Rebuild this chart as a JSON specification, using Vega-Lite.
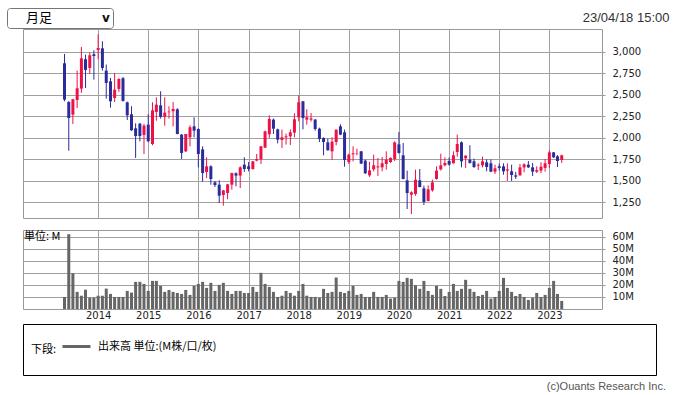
{
  "$schema": "https://vega.github.io/schema/vega-lite/v6.json",
  "padding": {"left": 6, "top": 7, "right": 8, "bottom": 5},
  "background": "white",
  "config": {
    "view": {"stroke": "#999999", "strokeWidth": 1},
    "axis": {"labelFont": "DejaVu Sans", "labelFontSize": 10, "labelColor": "#222222", "gridColor": "#a0a0a0", "gridWidth": 1, "tickColor": "#999999", "domain": false}
  },
  "datasets": {
    "px": [
      {"d":"2013-05-01","o":2864,"h":2972,"l":2423,"c":2442,"v":10},
      {"d":"2013-06-01","o":2415,"h":2423,"l":1850,"c":2229,"v":62},
      {"d":"2013-07-01","o":2268,"h":2450,"l":2160,"c":2446,"v":29.7},
      {"d":"2013-08-01","o":2438,"h":2779,"l":2345,"c":2574,"v":14.2},
      {"d":"2013-09-01","o":2570,"h":3054,"l":2520,"c":2922,"v":11},
      {"d":"2013-10-01","o":2911,"h":2965,"l":2578,"c":2787,"v":16},
      {"d":"2013-11-01","o":2810,"h":2992,"l":2740,"c":2957,"v":9.4},
      {"d":"2013-12-01","o":2969,"h":3015,"l":2674,"c":2949,"v":9.4},
      {"d":"2014-01-01","o":3019,"h":3201,"l":2911,"c":3042,"v":11},
      {"d":"2014-02-01","o":3038,"h":3120,"l":2779,"c":2810,"v":11},
      {"d":"2014-03-01","o":2779,"h":2849,"l":2454,"c":2636,"v":16.9},
      {"d":"2014-04-01","o":2655,"h":2694,"l":2349,"c":2423,"v":12.5},
      {"d":"2014-05-01","o":2461,"h":2752,"l":2415,"c":2558,"v":10},
      {"d":"2014-06-01","o":2566,"h":2690,"l":2531,"c":2682,"v":10},
      {"d":"2014-07-01","o":2690,"h":2705,"l":2419,"c":2427,"v":10},
      {"d":"2014-08-01","o":2411,"h":2419,"l":2206,"c":2260,"v":15},
      {"d":"2014-09-01","o":2272,"h":2365,"l":2080,"c":2086,"v":13.6},
      {"d":"2014-10-01","o":2109,"h":2167,"l":1765,"c":2020,"v":22.5},
      {"d":"2014-11-01","o":2163,"h":2171,"l":1958,"c":2020,"v":22.5},
      {"d":"2014-12-01","o":2032,"h":2160,"l":1811,"c":2140,"v":20.8},
      {"d":"2015-01-01","o":2152,"h":2272,"l":1950,"c":1958,"v":15},
      {"d":"2015-02-01","o":1927,"h":2411,"l":1912,"c":2318,"v":23.3},
      {"d":"2015-03-01","o":2299,"h":2469,"l":2198,"c":2384,"v":23.3},
      {"d":"2015-04-01","o":2376,"h":2539,"l":2222,"c":2241,"v":19.2},
      {"d":"2015-05-01","o":2241,"h":2469,"l":2140,"c":2291,"v":14.2},
      {"d":"2015-06-01","o":2295,"h":2365,"l":2222,"c":2303,"v":15.8},
      {"d":"2015-07-01","o":2307,"h":2415,"l":2132,"c":2334,"v":14.2},
      {"d":"2015-08-01","o":2330,"h":2342,"l":2040,"c":2043,"v":13.3},
      {"d":"2015-09-01","o":2036,"h":2043,"l":1753,"c":1823,"v":12.5},
      {"d":"2015-10-01","o":1842,"h":2043,"l":1834,"c":2043,"v":15.8},
      {"d":"2015-11-01","o":2005,"h":2144,"l":1900,"c":2121,"v":11.7},
      {"d":"2015-12-01","o":2132,"h":2237,"l":2005,"c":2082,"v":19.2},
      {"d":"2016-01-01","o":2101,"h":2109,"l":1656,"c":1811,"v":20.8},
      {"d":"2016-02-01","o":1865,"h":1900,"l":1490,"c":1590,"v":22.5},
      {"d":"2016-03-01","o":1602,"h":1772,"l":1532,"c":1668,"v":17.5},
      {"d":"2016-04-01","o":1668,"h":1680,"l":1455,"c":1521,"v":21.7},
      {"d":"2016-05-01","o":1482,"h":1498,"l":1428,"c":1451,"v":15},
      {"d":"2016-06-01","o":1455,"h":1505,"l":1242,"c":1327,"v":20},
      {"d":"2016-07-01","o":1335,"h":1393,"l":1211,"c":1389,"v":21.7},
      {"d":"2016-08-01","o":1358,"h":1462,"l":1285,"c":1459,"v":15},
      {"d":"2016-09-01","o":1455,"h":1594,"l":1397,"c":1590,"v":12.5},
      {"d":"2016-10-01","o":1587,"h":1598,"l":1436,"c":1560,"v":15},
      {"d":"2016-11-01","o":1560,"h":1668,"l":1416,"c":1656,"v":15},
      {"d":"2016-12-01","o":1687,"h":1772,"l":1602,"c":1637,"v":13.3},
      {"d":"2017-01-01","o":1668,"h":1718,"l":1610,"c":1637,"v":13.3},
      {"d":"2017-02-01","o":1637,"h":1730,"l":1629,"c":1726,"v":18.3},
      {"d":"2017-03-01","o":1734,"h":1811,"l":1726,"c":1753,"v":14.2},
      {"d":"2017-04-01","o":1749,"h":1903,"l":1695,"c":1900,"v":30},
      {"d":"2017-05-01","o":1885,"h":2082,"l":1880,"c":2074,"v":20.8},
      {"d":"2017-06-01","o":2040,"h":2260,"l":1997,"c":2218,"v":18.3},
      {"d":"2017-07-01","o":2210,"h":2222,"l":2043,"c":2105,"v":14.2},
      {"d":"2017-08-01","o":2097,"h":2105,"l":1935,"c":1978,"v":10},
      {"d":"2017-09-01","o":1974,"h":2094,"l":1881,"c":2005,"v":11},
      {"d":"2017-10-01","o":2005,"h":2047,"l":1920,"c":2016,"v":15},
      {"d":"2017-11-01","o":2016,"h":2097,"l":1916,"c":2063,"v":13.3},
      {"d":"2017-12-01","o":2059,"h":2283,"l":2005,"c":2214,"v":11},
      {"d":"2018-01-01","o":2237,"h":2492,"l":2190,"c":2411,"v":15},
      {"d":"2018-02-01","o":2423,"h":2426,"l":2097,"c":2229,"v":20.8},
      {"d":"2018-03-01","o":2210,"h":2330,"l":2152,"c":2237,"v":11},
      {"d":"2018-04-01","o":2210,"h":2287,"l":2187,"c":2225,"v":10},
      {"d":"2018-05-01","o":2210,"h":2218,"l":2082,"c":2101,"v":10},
      {"d":"2018-06-01","o":2105,"h":2117,"l":1950,"c":1985,"v":9.4},
      {"d":"2018-07-01","o":1997,"h":2005,"l":1796,"c":1950,"v":16.7},
      {"d":"2018-08-01","o":1946,"h":1989,"l":1850,"c":1854,"v":13.3},
      {"d":"2018-09-01","o":1842,"h":2005,"l":1742,"c":1954,"v":14.2},
      {"d":"2018-10-01","o":1950,"h":2094,"l":1912,"c":2094,"v":26.1},
      {"d":"2018-11-01","o":2132,"h":2156,"l":2030,"c":2036,"v":14.2},
      {"d":"2018-12-01","o":2063,"h":2094,"l":1664,"c":1742,"v":13.3},
      {"d":"2019-01-01","o":1718,"h":1815,"l":1695,"c":1803,"v":15},
      {"d":"2019-02-01","o":1807,"h":1900,"l":1726,"c":1819,"v":19.2},
      {"d":"2019-03-01","o":1811,"h":1873,"l":1796,"c":1815,"v":11.7},
      {"d":"2019-04-01","o":1842,"h":1846,"l":1695,"c":1699,"v":12.5},
      {"d":"2019-05-01","o":1734,"h":1745,"l":1579,"c":1587,"v":10},
      {"d":"2019-06-01","o":1563,"h":1718,"l":1544,"c":1621,"v":10},
      {"d":"2019-07-01","o":1633,"h":1803,"l":1610,"c":1680,"v":14.2},
      {"d":"2019-08-01","o":1656,"h":1765,"l":1556,"c":1668,"v":10},
      {"d":"2019-09-01","o":1656,"h":1776,"l":1610,"c":1703,"v":10},
      {"d":"2019-10-01","o":1695,"h":1842,"l":1629,"c":1745,"v":11.7},
      {"d":"2019-11-01","o":1718,"h":1772,"l":1707,"c":1765,"v":8.6},
      {"d":"2019-12-01","o":1753,"h":1958,"l":1730,"c":1946,"v":9.4},
      {"d":"2020-01-01","o":1923,"h":2067,"l":1815,"c":1823,"v":23.3},
      {"d":"2020-02-01","o":1796,"h":1939,"l":1517,"c":1521,"v":22.5},
      {"d":"2020-03-01","o":1505,"h":1618,"l":1172,"c":1358,"v":25.8},
      {"d":"2020-04-01","o":1339,"h":1378,"l":1114,"c":1366,"v":25},
      {"d":"2020-05-01","o":1347,"h":1629,"l":1327,"c":1513,"v":19.7},
      {"d":"2020-06-01","o":1505,"h":1637,"l":1424,"c":1428,"v":16.7},
      {"d":"2020-07-01","o":1412,"h":1443,"l":1219,"c":1254,"v":23.3},
      {"d":"2020-08-01","o":1265,"h":1447,"l":1261,"c":1401,"v":15},
      {"d":"2020-09-01","o":1389,"h":1513,"l":1374,"c":1482,"v":11.7},
      {"d":"2020-10-01","o":1521,"h":1668,"l":1513,"c":1618,"v":19.2},
      {"d":"2020-11-01","o":1633,"h":1815,"l":1618,"c":1680,"v":16.7},
      {"d":"2020-12-01","o":1680,"h":1772,"l":1668,"c":1707,"v":10.8},
      {"d":"2021-01-01","o":1730,"h":1772,"l":1676,"c":1687,"v":14.2},
      {"d":"2021-02-01","o":1703,"h":1842,"l":1700,"c":1796,"v":20.8},
      {"d":"2021-03-01","o":1834,"h":2036,"l":1780,"c":1927,"v":15},
      {"d":"2021-04-01","o":1946,"h":1958,"l":1656,"c":1726,"v":16.7},
      {"d":"2021-05-01","o":1761,"h":1795,"l":1649,"c":1792,"v":24.2},
      {"d":"2021-06-01","o":1745,"h":1912,"l":1699,"c":1707,"v":16.7},
      {"d":"2021-07-01","o":1726,"h":1757,"l":1649,"c":1660,"v":14.2},
      {"d":"2021-08-01","o":1676,"h":1703,"l":1625,"c":1687,"v":10.8},
      {"d":"2021-09-01","o":1680,"h":1780,"l":1656,"c":1726,"v":11.7},
      {"d":"2021-10-01","o":1714,"h":1749,"l":1610,"c":1660,"v":15},
      {"d":"2021-11-01","o":1703,"h":1749,"l":1600,"c":1606,"v":8.6},
      {"d":"2021-12-01","o":1606,"h":1687,"l":1579,"c":1645,"v":10},
      {"d":"2022-01-01","o":1668,"h":1699,"l":1618,"c":1649,"v":15},
      {"d":"2022-02-01","o":1668,"h":1703,"l":1571,"c":1610,"v":25.8},
      {"d":"2022-03-01","o":1618,"h":1703,"l":1498,"c":1633,"v":17.5},
      {"d":"2022-04-01","o":1610,"h":1687,"l":1498,"c":1567,"v":14.2},
      {"d":"2022-05-01","o":1563,"h":1602,"l":1521,"c":1548,"v":10.8},
      {"d":"2022-06-01","o":1563,"h":1695,"l":1560,"c":1656,"v":12.5},
      {"d":"2022-07-01","o":1656,"h":1703,"l":1598,"c":1691,"v":10},
      {"d":"2022-08-01","o":1687,"h":1730,"l":1649,"c":1656,"v":7.5},
      {"d":"2022-09-01","o":1656,"h":1707,"l":1556,"c":1606,"v":9.4},
      {"d":"2022-10-01","o":1606,"h":1668,"l":1590,"c":1625,"v":13.3},
      {"d":"2022-11-01","o":1618,"h":1714,"l":1590,"c":1664,"v":10},
      {"d":"2022-12-01","o":1649,"h":1753,"l":1606,"c":1703,"v":11.7},
      {"d":"2023-01-01","o":1695,"h":1854,"l":1649,"c":1830,"v":17.5},
      {"d":"2023-02-01","o":1830,"h":1834,"l":1765,"c":1772,"v":23.3},
      {"d":"2023-03-01","o":1784,"h":1799,"l":1660,"c":1730,"v":12.5},
      {"d":"2023-04-01","o":1742,"h":1803,"l":1707,"c":1796,"v":6.7}
    ]
  },
  "vconcat": [
    {
      "width": 579,
      "height": 189,
      "data": {"name": "px"},
      "layer": [
        {
          "mark": {"type": "rule", "strokeWidth": 1},
          "encoding": {
            "x": {"field": "d", "type": "temporal",
              "scale": {"type": "utc", "domain": [{"year": 2012, "month": 8, "date": 8, "utc": true}, {"year": 2023, "month": 12, "date": 14, "utc": true}]},
              "axis": {"title": null, "labels": false, "ticks": false, "grid": true, "tickCount": 20,
                "values": [{"year":2014,"month":1,"date":1,"utc":true},{"year":2015,"month":1,"date":1,"utc":true},{"year":2016,"month":1,"date":1,"utc":true},{"year":2017,"month":1,"date":1,"utc":true},{"year":2018,"month":1,"date":1,"utc":true},{"year":2019,"month":1,"date":1,"utc":true},{"year":2020,"month":1,"date":1,"utc":true},{"year":2021,"month":1,"date":1,"utc":true},{"year":2022,"month":1,"date":1,"utc":true},{"year":2023,"month":1,"date":1,"utc":true}]}},
            "y": {"field": "l", "type": "quantitative",
              "scale": {"domain": [1068, 3262], "nice": false, "zero": false},
              "axis": {"orient": "right", "values": [1250, 1500, 1750, 2000, 2250, 2500, 2750, 3000], "tickCount": 20, "labelExpr": "format(datum.value, ',')", "labelOverlap": false, "grid": true, "tickSize": 3, "labelPadding": 7,
                "title": "23/04/18 15:00", "titleAngle": 0, "titleAlign": "right", "titleBaseline": "middle", "titleX": 67, "titleY": -12,
                "titleFont": "Liberation Sans", "titleFontSize": 13, "titleFontWeight": "normal", "titleColor": "#333333"}},
            "y2": {"field": "h"},
            "color": {"condition": {"test": "datum.c >= datum.o", "value": "#ee1148"}, "value": "#2b2b9b"}
          }
        },
        {
          "mark": {"type": "bar", "size": 3},
          "encoding": {
            "x": {"field": "d", "type": "temporal"},
            "y": {"field": "o", "type": "quantitative"},
            "y2": {"field": "c"},
            "color": {"condition": {"test": "datum.c >= datum.o", "value": "#ee1148"}, "value": "#2b2b9b"}
          }
        },
        {
          "data": {"values": [{"period": "月足"}]},
          "mark": {"type": "point", "opacity": 0},
          "encoding": {
            "shape": {"field": "period", "type": "nominal",
              "legend": {"orient": "none", "legendX": -16, "legendY": -21, "direction": "horizontal",
                "title": "v", "titleOrient": "right", "titlePadding": 50, "titleFont": "DejaVu Sans", "titleFontSize": 12, "titleFontWeight": "bold", "titleColor": "#111111",
                "labelFont": "Noto Sans CJK JP", "labelFontSize": 13, "labelColor": "#000000", "labelOffset": 3,
                "symbolSize": 0, "symbolOpacity": 0, "symbolStrokeWidth": 0,
                "padding": 3, "strokeColor": "#767676", "cornerRadius": 3, "fillColor": "white"}}
          }
        }
      ]
    },
    {
      "bounds": "flush",
      "spacing": 15,
      "resolve": {"scale": {"color": "independent"}, "legend": {"color": "independent"}},
      "vconcat": [
        {
          "width": 579,
          "height": 79,
          "data": {"name": "px"},
          "title": {"text": "単位: M", "anchor": "start", "frame": "group", "offset": -12, "dx": 1, "font": "Noto Sans CJK JP", "fontSize": 11, "fontWeight": "normal", "color": "#000000"},
          "mark": {"type": "bar", "size": 3, "color": "#666666"},
          "encoding": {
            "x": {"field": "d", "type": "temporal",
              "scale": {"type": "utc", "domain": [{"year": 2012, "month": 8, "date": 8, "utc": true}, {"year": 2023, "month": 12, "date": 14, "utc": true}]},
              "axis": {"title": null, "ticks": false, "grid": true, "labelPadding": 1, "format": "%Y", "tickCount": 20,
                "values": [{"year":2014,"month":1,"date":1,"utc":true},{"year":2015,"month":1,"date":1,"utc":true},{"year":2016,"month":1,"date":1,"utc":true},{"year":2017,"month":1,"date":1,"utc":true},{"year":2018,"month":1,"date":1,"utc":true},{"year":2019,"month":1,"date":1,"utc":true},{"year":2020,"month":1,"date":1,"utc":true},{"year":2021,"month":1,"date":1,"utc":true},{"year":2022,"month":1,"date":1,"utc":true},{"year":2023,"month":1,"date":1,"utc":true}]}},
            "y": {"field": "v", "type": "quantitative",
              "scale": {"domain": [0, 65.5], "nice": false},
              "axis": {"orient": "right", "title": null, "values": [10, 20, 30, 40, 50, 60], "tickCount": 20, "labelExpr": "datum.value + 'M'", "labelOverlap": false, "grid": true, "tickSize": 3, "labelPadding": 7}}
          }
        },
        {
          "width": 633,
          "height": 51,
          "view": {"stroke": "#000000"},
          "data": {"values": [{"series": "出来高 単位:(M株/口/枚)"}]},
          "title": {"text": "(c)Ouants Research Inc.", "orient": "bottom", "anchor": "end", "frame": "group", "offset": 6, "dx": 10, "font": "Liberation Sans", "fontSize": 11, "fontWeight": "normal", "color": "#555555"},
          "mark": {"type": "point", "opacity": 0},
          "encoding": {
            "color": {"field": "series", "type": "nominal", "scale": {"range": ["#666666"]},
              "legend": {"orient": "none", "legendX": 8, "legendY": 7, "direction": "horizontal",
                "title": "下段:", "titleOrient": "left", "titleBaseline": "line-top", "titleLineHeight": 16, "titlePadding": 4, "titleFont": "Noto Sans CJK JP", "titleFontSize": 11, "titleFontWeight": "normal", "titleColor": "#000000",
                "labelFont": "Noto Sans CJK JP", "labelFontSize": 11, "labelColor": "#000000", "labelOffset": 6,
                "symbolType": "stroke", "symbolSize": 784, "symbolStrokeWidth": 3, "symbolStrokeColor": "#666666", "symbolOpacity": 1, "padding": 0}}
          }
        }
      ]
    }
  ],
  "resolve": {"scale": {"color": "independent", "shape": "independent"}, "legend": {"color": "independent", "shape": "independent"}},
  "bounds": "flush",
  "spacing": 12
}
